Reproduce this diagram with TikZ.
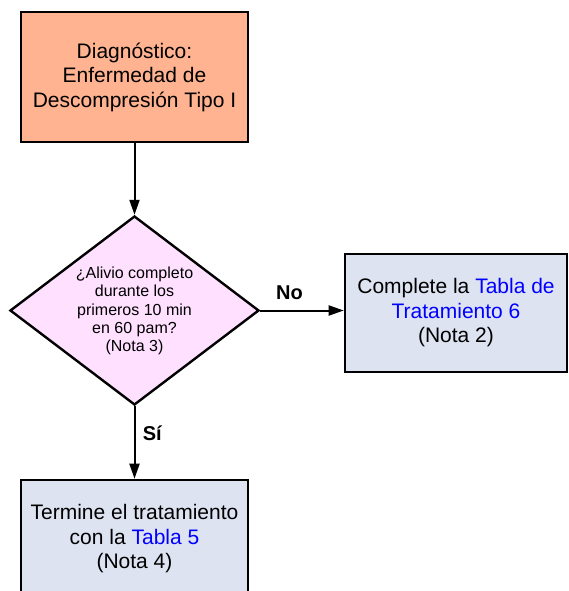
\documentclass[tikz,border=0pt]{standalone}
\usepackage{fontspec}
\setmainfont{Liberation Sans}
\usetikzlibrary{arrows.meta,shapes.geometric}
\definecolor{salmonfill}{RGB}{255,179,144}
\definecolor{pinkfill}{RGB}{255,225,255}
\definecolor{stepfill}{RGB}{221,227,240}
\definecolor{linkblue}{RGB}{0,0,255}
\newcommand{\lnk}[1]{\textcolor{linkblue}{#1}}
\begin{document}
\begin{tikzpicture}[x=1pt,y=1pt,
  boxstyle/.style={draw=black, line width=2.6pt, rectangle, inner sep=0pt,
    align=center, font=\fontsize{21}{24.5}\selectfont},
  decisionshape/.style={draw=black, line width=2.4pt, diamond, inner sep=0pt,
    fill=pinkfill, minimum width=249pt, minimum height=189pt},
  decisiontext/.style={align=center, font=\fontsize{16}{18.4}\selectfont},
  flow/.style={draw=black, line width=2pt, -{Triangle[length=15pt,width=10pt]}},
  branch/.style={font=\bfseries\fontsize{20}{24}\selectfont}]
\useasboundingbox (0,0) rectangle (569,-591);

\node[boxstyle, fill=salmonfill, minimum width=227pt, minimum height=130pt]
  (diag) at (134.5,-77) {Diagnóstico:\\Enfermedad de\\Descompresión Tipo I};

\node[decisionshape] (dec) at (134.5,-310.5) {};
\node[decisiontext] (dectext) at (134.5,-311)
  {¿Alivio completo\\durante los\\primeros 10 min\\en 60 pam?\\(Nota 3)};

\node[boxstyle, fill=stepfill, minimum width=222pt, minimum height=118pt]
  (t6) at (456,-313) {Complete la \lnk{Tabla de}\\\lnk{Tratamiento 6}\\(Nota 2)};

\node[boxstyle, fill=stepfill, minimum width=227pt, minimum height=118pt]
  (t5) at (134.5,-539) {Termine el tratamiento\\con la \lnk{Tabla 5}\\(Nota 4)};

\draw[flow] (diag.south) -- (dec.north);
\draw[flow] (dec.east) -- node[branch, above=6pt, pos=0.35] (no) {No} (dec.east -| t6.west);
\draw[flow] (dec.south) -- node[branch, right=4pt, pos=0.38] (si) {Sí} (t5.north);
\end{tikzpicture}
\end{document}
